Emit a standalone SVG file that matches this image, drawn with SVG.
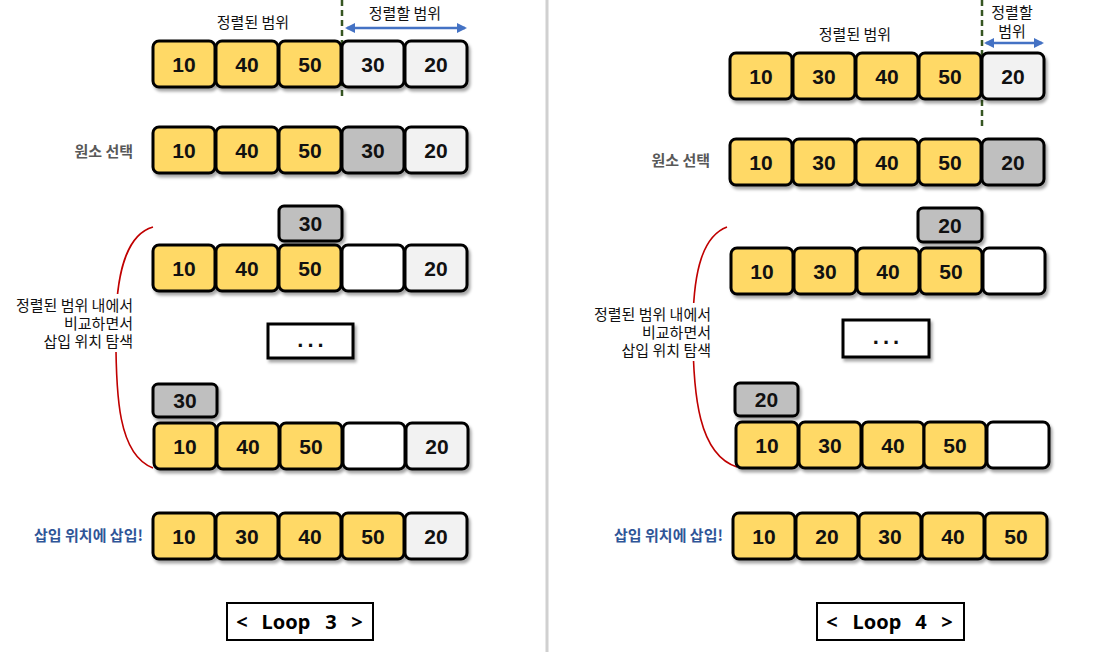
<svg xmlns="http://www.w3.org/2000/svg" width="1100" height="652" viewBox="0 0 1100 652">
<style>
.b{stroke:#000;stroke-width:3;filter:url(#sh)}
.y{fill:#FFD966}.g{fill:#BFBFBF}.l{fill:#F2F2F2}.w{fill:#FFFFFF}
.n{font-family:"Liberation Sans",Arial,sans-serif;font-weight:bold;font-size:21px;fill:#111;text-anchor:middle;dominant-baseline:central}
.k{font-family:"Noto Sans CJK KR","Noto Sans",sans-serif;font-size:15px;fill:#111}
.kg{font-family:"Noto Sans CJK KR","Noto Sans",sans-serif;font-size:15px;font-weight:bold;fill:#595959;text-anchor:end}
.kb{font-family:"Noto Sans CJK KR","Noto Sans",sans-serif;font-size:15px;font-weight:bold;fill:#2F5597;text-anchor:end}
.lp{font-family:"Noto Sans","Open Sans",sans-serif;font-size:20px;font-weight:bold;fill:#000;text-anchor:middle;dominant-baseline:central}
.dots{font-family:"Liberation Sans",Arial,sans-serif;font-weight:bold;font-size:22px;fill:#111;text-anchor:middle;letter-spacing:4px}
.dash{stroke:#375623;stroke-width:2.5;stroke-dasharray:6,4;fill:none}
.arr{stroke:#4472C4;stroke-width:2.5;fill:none;marker-start:url(#ah);marker-end:url(#ah)}
.cv{stroke:#C00000;stroke-width:1.6;fill:none}
</style>
<defs>
<filter id="sh" x="-20%" y="-20%" width="150%" height="160%"><feDropShadow dx="2" dy="3" stdDeviation="1.5" flood-color="#000" flood-opacity="0.35"/></filter>
<marker id="ah" viewBox="0 0 10 10" refX="8" refY="5" markerWidth="4" markerHeight="4" orient="auto-start-reverse"><path d="M0,0 L10,5 L0,10 z" fill="#4472C4"/></marker>
</defs>
<rect width="1100" height="652" fill="#fff"/>
<line x1="547" y1="0" x2="547" y2="652" stroke="#D0D0D0" stroke-width="3"/>

<g id="connectors">
<line class="dash" x1="342" y1="0" x2="342" y2="100"/>
<line class="arr" x1="347" y1="28" x2="465" y2="28"/>
<line class="dash" x1="982" y1="0" x2="982" y2="130"/>
<line class="arr" x1="986" y1="43" x2="1042" y2="43"/>
<path class="cv" d="M153,227 C128,234 117,270 116,320 C115,400 119,455 153,468"/>
<path class="cv" d="M727,227 C703,236 694,270 693,320 C692,400 700,455 737,467"/>
</g>

<!-- LEFT PANEL -->
<g id="left-labels">
<text class="k" x="253" y="28" text-anchor="middle">정렬된 범위</text>
<text class="k" x="405" y="19" text-anchor="middle">정렬할 범위</text>
<text class="kg" x="133" y="157">원소 선택</text>
<rect x="8" y="294" width="130" height="58" fill="#fff"/>
<text class="k" text-anchor="end"><tspan x="133" y="311">정렬된 범위 내에서</tspan><tspan x="133" y="329">비교하면서</tspan><tspan x="133" y="347">삽입 위치 탐색</tspan></text>
<text class="kb" x="143" y="541">삽입 위치에 삽입!</text>
</g>

<g id="L-row1">
<rect class="b y" x="153" y="41" width="62" height="46" rx="6"/><text class="n" x="184" y="64">10</text>
<rect class="b y" x="216" y="41" width="62" height="46" rx="6"/><text class="n" x="247" y="64">40</text>
<rect class="b y" x="279" y="41" width="62" height="46" rx="6"/><text class="n" x="310" y="64">50</text>
<rect class="b l" x="342" y="41" width="62" height="46" rx="6"/><text class="n" x="373" y="64">30</text>
<rect class="b l" x="405" y="41" width="62" height="46" rx="6"/><text class="n" x="436" y="64">20</text>
</g>
<g id="L-row2">
<rect class="b y" x="153" y="127" width="62" height="46" rx="6"/><text class="n" x="184" y="150">10</text>
<rect class="b y" x="216" y="127" width="62" height="46" rx="6"/><text class="n" x="247" y="150">40</text>
<rect class="b y" x="279" y="127" width="62" height="46" rx="6"/><text class="n" x="310" y="150">50</text>
<rect class="b g" x="342" y="127" width="62" height="46" rx="6"/><text class="n" x="373" y="150">30</text>
<rect class="b l" x="405" y="127" width="62" height="46" rx="6"/><text class="n" x="436" y="150">20</text>
</g>
<g id="L-pick1">
<rect class="b g" x="279" y="206" width="63" height="35" rx="5"/><text class="n" x="310.5" y="223.5">30</text>
</g>
<g id="L-row3">
<rect class="b y" x="153" y="245" width="62" height="46" rx="6"/><text class="n" x="184" y="268">10</text>
<rect class="b y" x="216" y="245" width="62" height="46" rx="6"/><text class="n" x="247" y="268">40</text>
<rect class="b y" x="279" y="245" width="62" height="46" rx="6"/><text class="n" x="310" y="268">50</text>
<rect class="b w" x="342" y="245" width="62" height="46" rx="6"/>
<rect class="b l" x="405" y="245" width="62" height="46" rx="6"/><text class="n" x="436" y="268">20</text>
</g>
<g id="L-ellipsis">
<rect x="268" y="324" width="85" height="34" fill="#fff" stroke="#000" stroke-width="3" filter="url(#sh)"/>
<text class="dots" x="312.5" y="347">...</text>
</g>
<g id="L-pick2">
<rect class="b g" x="153" y="384" width="64" height="33" rx="5"/><text class="n" x="185" y="400.5">30</text>
</g>
<g id="L-row4">
<rect class="b y" x="154" y="423" width="62" height="46" rx="6"/><text class="n" x="185" y="446">10</text>
<rect class="b y" x="217" y="423" width="62" height="46" rx="6"/><text class="n" x="248" y="446">40</text>
<rect class="b y" x="280" y="423" width="62" height="46" rx="6"/><text class="n" x="311" y="446">50</text>
<rect class="b w" x="343" y="423" width="62" height="46" rx="6"/>
<rect class="b l" x="406" y="423" width="62" height="46" rx="6"/><text class="n" x="437" y="446">20</text>
</g>
<g id="L-row5">
<rect class="b y" x="153" y="513" width="62" height="46" rx="6"/><text class="n" x="184" y="536">10</text>
<rect class="b y" x="216" y="513" width="62" height="46" rx="6"/><text class="n" x="247" y="536">30</text>
<rect class="b y" x="279" y="513" width="62" height="46" rx="6"/><text class="n" x="310" y="536">40</text>
<rect class="b y" x="342" y="513" width="62" height="46" rx="6"/><text class="n" x="373" y="536">50</text>
<rect class="b l" x="405" y="513" width="62" height="46" rx="6"/><text class="n" x="436" y="536">20</text>
</g>
<g id="L-loop">
<rect x="227" y="603" width="146" height="37" fill="#fff" stroke="#000" stroke-width="2"/>
<text class="lp" x="242" y="621">&lt;</text>
<text class="lp" x="286" y="621">Loop</text>
<text class="lp" x="331" y="621">3</text>
<text class="lp" x="357" y="621">&gt;</text>
</g>

<!-- RIGHT PANEL -->
<g id="right-labels">
<text class="k" x="855" y="40" text-anchor="middle">정렬된 범위</text>
<text class="k" text-anchor="middle"><tspan x="1012" y="18">정렬할</tspan><tspan x="1012" y="37">범위</tspan></text>
<text class="kg" x="710" y="166">원소 선택</text>
<rect x="585" y="303" width="130" height="58" fill="#fff"/>
<text class="k" text-anchor="end"><tspan x="711" y="320">정렬된 범위 내에서</tspan><tspan x="711" y="338">비교하면서</tspan><tspan x="711" y="356">삽입 위치 탐색</tspan></text>
<text class="kb" x="723" y="541">삽입 위치에 삽입!</text>
</g>

<g id="R-row1">
<rect class="b y" x="730" y="53" width="62" height="46" rx="6"/><text class="n" x="761" y="76">10</text>
<rect class="b y" x="793" y="53" width="62" height="46" rx="6"/><text class="n" x="824" y="76">30</text>
<rect class="b y" x="856" y="53" width="62" height="46" rx="6"/><text class="n" x="887" y="76">40</text>
<rect class="b y" x="919" y="53" width="62" height="46" rx="6"/><text class="n" x="950" y="76">50</text>
<rect class="b l" x="982" y="53" width="62" height="46" rx="6"/><text class="n" x="1013" y="76">20</text>
</g>
<g id="R-row2">
<rect class="b y" x="730" y="139" width="62" height="46" rx="6"/><text class="n" x="761" y="162">10</text>
<rect class="b y" x="793" y="139" width="62" height="46" rx="6"/><text class="n" x="824" y="162">30</text>
<rect class="b y" x="856" y="139" width="62" height="46" rx="6"/><text class="n" x="887" y="162">40</text>
<rect class="b y" x="919" y="139" width="62" height="46" rx="6"/><text class="n" x="950" y="162">50</text>
<rect class="b g" x="982" y="139" width="62" height="46" rx="6"/><text class="n" x="1013" y="162">20</text>
</g>
<g id="R-pick1">
<rect class="b g" x="918" y="208" width="64" height="34" rx="5"/><text class="n" x="950" y="225">20</text>
</g>
<g id="R-row3">
<rect class="b y" x="731" y="248" width="62" height="46" rx="6"/><text class="n" x="762" y="271">10</text>
<rect class="b y" x="794" y="248" width="62" height="46" rx="6"/><text class="n" x="825" y="271">30</text>
<rect class="b y" x="857" y="248" width="62" height="46" rx="6"/><text class="n" x="888" y="271">40</text>
<rect class="b y" x="920" y="248" width="62" height="46" rx="6"/><text class="n" x="951" y="271">50</text>
<rect class="b w" x="983" y="248" width="62" height="46" rx="6"/>
</g>
<g id="R-ellipsis">
<rect x="843" y="320" width="86" height="37" fill="#fff" stroke="#000" stroke-width="3" filter="url(#sh)"/>
<text class="dots" x="888" y="344">...</text>
</g>
<g id="R-pick2">
<rect class="b g" x="735" y="383" width="63" height="33" rx="5"/><text class="n" x="766.5" y="399.5">20</text>
</g>
<g id="R-row4">
<rect class="b y" x="736" y="422" width="62" height="46" rx="6"/><text class="n" x="767" y="445">10</text>
<rect class="b y" x="799" y="422" width="62" height="46" rx="6"/><text class="n" x="830" y="445">30</text>
<rect class="b y" x="862" y="422" width="62" height="46" rx="6"/><text class="n" x="893" y="445">40</text>
<rect class="b y" x="924" y="422" width="62" height="46" rx="6"/><text class="n" x="955" y="445">50</text>
<rect class="b w" x="987" y="422" width="62" height="46" rx="6"/>
</g>
<g id="R-row5">
<rect class="b y" x="733" y="513" width="62" height="46" rx="6"/><text class="n" x="764" y="536">10</text>
<rect class="b y" x="796" y="513" width="62" height="46" rx="6"/><text class="n" x="827" y="536">20</text>
<rect class="b y" x="859" y="513" width="62" height="46" rx="6"/><text class="n" x="890" y="536">30</text>
<rect class="b y" x="922" y="513" width="62" height="46" rx="6"/><text class="n" x="953" y="536">40</text>
<rect class="b y" x="985" y="513" width="62" height="46" rx="6"/><text class="n" x="1016" y="536">50</text>
</g>
<g id="R-loop">
<rect x="817" y="603" width="147" height="37" fill="#fff" stroke="#000" stroke-width="2"/>
<text class="lp" x="832" y="621">&lt;</text>
<text class="lp" x="877" y="621">Loop</text>
<text class="lp" x="921" y="621">4</text>
<text class="lp" x="947" y="621">&gt;</text>
</g>
</svg>
